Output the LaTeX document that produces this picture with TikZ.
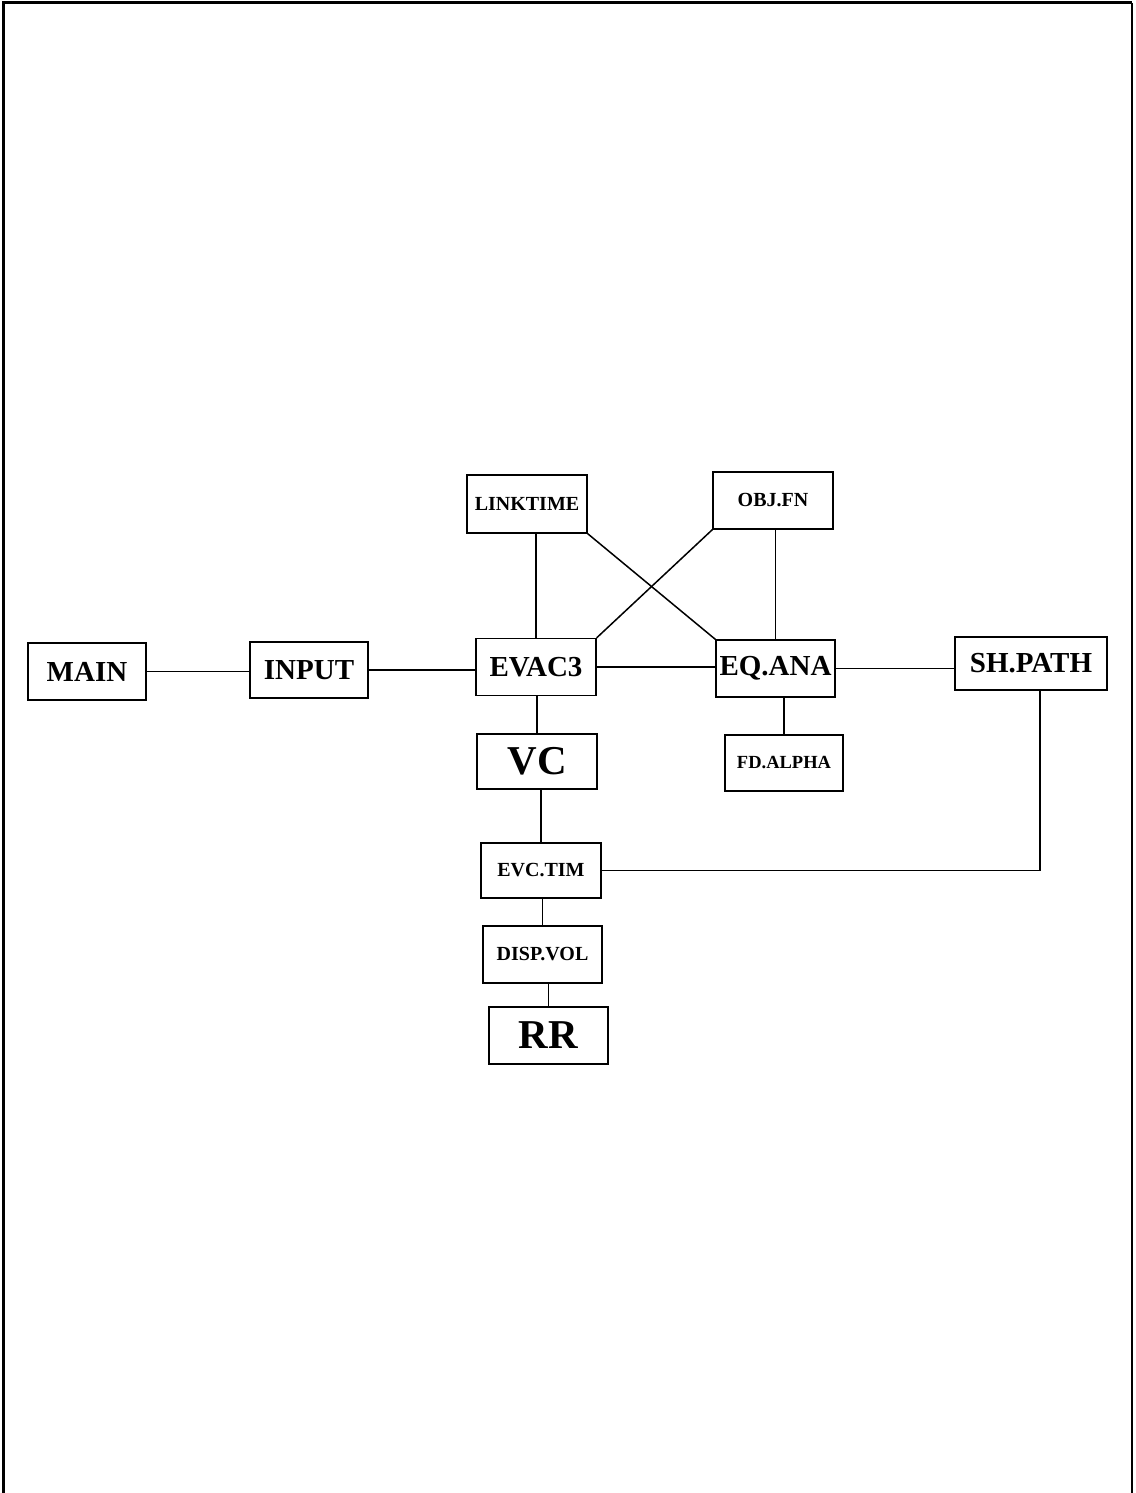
\documentclass[tikz,border=0pt]{standalone}
\usepackage{fontspec}
\setmainfont{Liberation Serif}
\usepackage{tikz}
\usetikzlibrary{arrows,shapes}

\tikzset{
  modbox/.style={draw, line width=1.4pt, inner sep=0pt, font=\bfseries},
  big/.style={modbox, font=\fontsize{29}{31}\selectfont\bfseries},
  huge/.style={modbox, font=\fontsize{41}{43}\selectfont\bfseries},
  small/.style={modbox, font=\fontsize{20}{22}\selectfont\bfseries},
  link/.style={line width=1.2pt}
}

\begin{document}
\begin{tikzpicture}[x=1pt, y=-1pt]
        \useasboundingbox (0,0) rectangle (1135,1493);
        %\draw[line width=2.5pt] (3,1493) -- (3,3) -- (1132,3) -- (1132,1493);
        \draw[line width=3pt] (3,1493) -- (3,3) -- (1132,3);
        \draw[line width=1.5pt] (1132,3) -- (1132,1493);

        \node[big, minimum width=118pt, minimum height=57pt] (main) at (87,671.5) {MAIN};
        \node[big, minimum width=118pt, minimum height=56pt] (input) at (309,670) {INPUT};
        \node[big, minimum width=120pt, minimum height=57pt] (evac3) at (536,667) {EVAC3};
        \node[big, minimum width=119pt, minimum height=57pt] (eqana) at (775.5,668.5) {EQ.ANA};
        \node[big, minimum width=152pt, minimum height=53pt] (shpath) at (1031,663.5) {SH.PATH};
        \node[small, minimum width=120pt, minimum height=58pt] (linktime) at (527,504) {LINKTIME};
        \node[small, minimum width=120pt, minimum height=57pt] (objfn) at (773,500.5) {OBJ.FN};
        \node[huge, minimum width=120pt, minimum height=55pt] (vc) at (537,761.5) {VC};
        \node[small, minimum width=118pt, minimum height=56pt, font=\fontsize{18.5}{20}\selectfont\bfseries] (fdalpha) at (784,763) {FD.ALPHA};
        \node[small, minimum width=120pt, minimum height=55pt] (evctim) at (541,870.5) {EVC.TIM};
        \node[small, minimum width=119pt, minimum height=57pt] (dispvol) at (542.5,954.5) {DISP.VOL};
        \node[huge, minimum width=119pt, minimum height=57pt] (rr) at (548.5,1035.5) {RR};

        \draw[link] (main.east) -- (main.east -| input.west);
        \draw[link] (input.east) -- (input.east -| evac3.west);
        \draw[link] (evac3.east) -- (evac3.east -| eqana.west);
        \draw[link] (eqana.east) -- (eqana.east -| shpath.west);
        \draw[link] (evac3.north |- linktime.south) -- (evac3.north);
        \draw[link] (eqana.north |- objfn.south) -- (eqana.north);
        \draw[link, line width=1.5pt] (linktime.south east) -- (eqana.north west);
        \draw[link, line width=1.5pt] (objfn.south west) -- (evac3.north east);
        \draw[link] (vc.north) -- (vc.north |- evac3.south);
        \draw[link] (fdalpha.north) -- (fdalpha.north |- eqana.south);
        \draw[link] (evctim.north) -- (evctim.north |- vc.south);
        \draw[link] (dispvol.north) -- (dispvol.north |- evctim.south);
        \draw[link] (rr.north) -- (rr.north |- dispvol.south);
        \draw[link, line width=1.5pt] (evctim.east) -| ([xshift=9pt]shpath.south);
    \end{tikzpicture}
\end{document}
